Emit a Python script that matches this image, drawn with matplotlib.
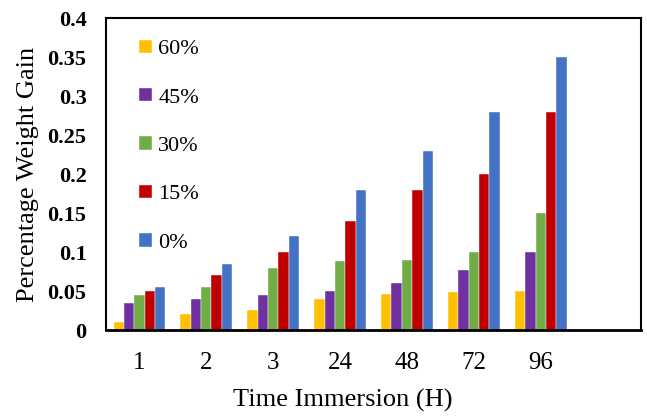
import matplotlib.pyplot as plt
import numpy as np

plt.rcParams['font.family'] = ['Liberation Serif', 'DejaVu Serif']

hours = ['1', '2', '3', '24', '48', '72', '96']
series_names = ['60%', '45%', '30%', '15%', '0%']
gain_60 = [0.010, 0.020, 0.026, 0.040, 0.046, 0.049, 0.050]
gain_45 = [0.035, 0.040, 0.045, 0.050, 0.060, 0.077, 0.100]
gain_30 = [0.045, 0.055, 0.080, 0.088, 0.090, 0.100, 0.150]
gain_15 = [0.050, 0.070, 0.100, 0.140, 0.180, 0.200, 0.280]
gain_0 = [0.055, 0.085, 0.120, 0.180, 0.230, 0.280, 0.350]
colors = ['#FFC000', '#7030A0', '#70AD47', '#C00000', '#4472C4']

fig = plt.figure(figsize=(6.47, 4.18), dpi=100)
ax = fig.add_axes([0.1638, 0.2105, 0.827, 0.7464])

x = np.arange(len(hours))
w = 0.155
for j, (vals, name, c) in enumerate(zip([gain_60, gain_45, gain_30, gain_15, gain_0], series_names, colors)):
    ax.bar(x + (j - 2) * w, vals, width=w, color=c, label=name, edgecolor='white', linewidth=0.3)

ax.set_xlim(-0.5, len(hours) + 0.5)
ax.set_ylim(0, 0.4)
ax.set_yticks(np.arange(0, 0.41, 0.05))
ax.set_yticklabels(['0', '0.05', '0.1', '0.15', '0.2', '0.25', '0.3', '0.35', '0.4'],
                   fontsize=16, fontweight='bold')
ax.set_xticks(x)
ax.set_xticklabels(hours, fontsize=18)
ax.tick_params(axis='y', length=0, pad=14)
ax.tick_params(axis='x', length=0, pad=16)

for s in ax.spines.values():
    s.set_linewidth(1.5)
ax.spines['bottom'].set_linewidth(2)

ax.set_ylabel('Percentage Weight Gain', fontsize=19, labelpad=6)
ax.set_xlabel('Time Immersion (H)', fontsize=19)
ax.xaxis.set_label_coords(0.443, -0.19)

ax.legend(loc='upper left', bbox_to_anchor=(0.025, 0.995), frameon=False, fontsize=16,
          handlelength=0.55, handleheight=0.55, handletextpad=0.3, labelspacing=1.3)

fig.savefig('out.png', dpi=100)
